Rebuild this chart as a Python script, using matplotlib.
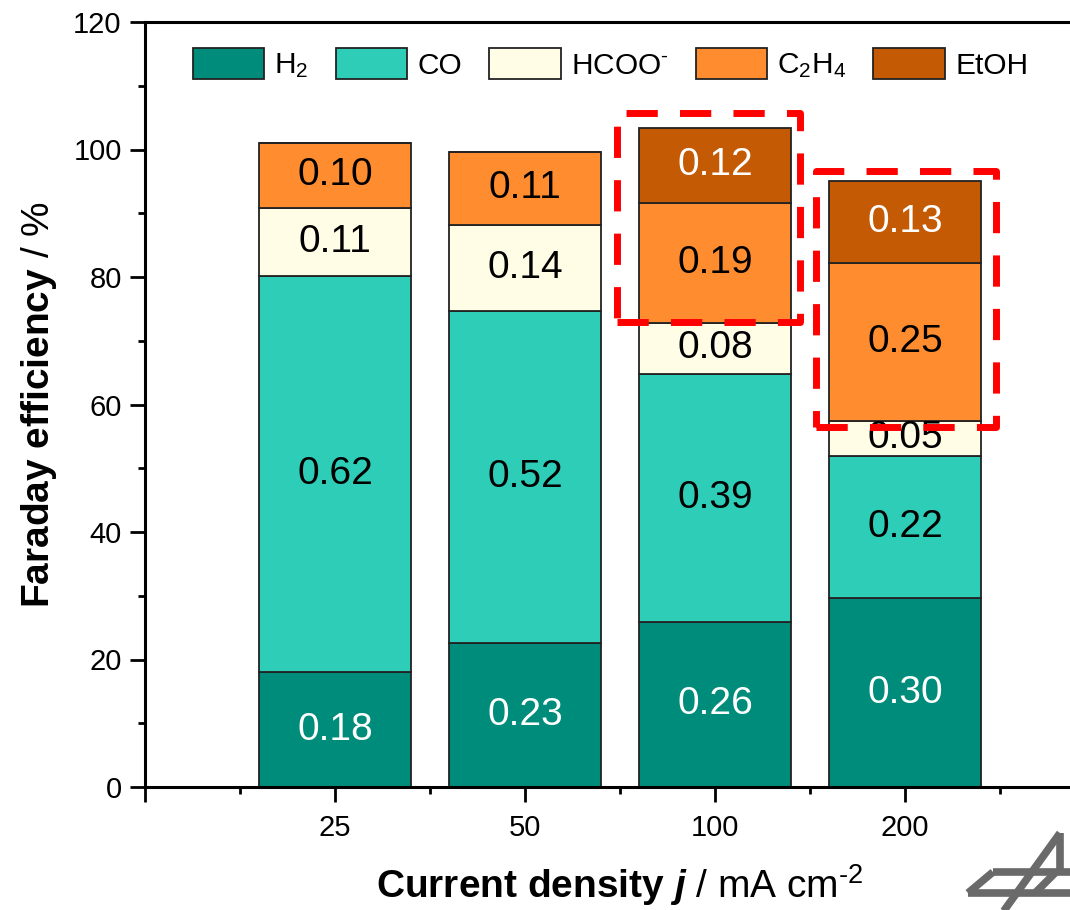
import matplotlib
matplotlib.use("Agg")
import matplotlib.pyplot as plt
from matplotlib.patches import Rectangle, Patch
from matplotlib.lines import Line2D
import numpy as np

plt.rcParams['font.family'] = ['Liberation Sans', 'DejaVu Sans']
plt.rcParams['mathtext.fontset'] = 'custom'
plt.rcParams['mathtext.rm'] = 'Liberation Sans'
plt.rcParams['mathtext.it'] = 'Liberation Sans:italic'
plt.rcParams['mathtext.bf'] = 'Liberation Sans:bold'
plt.rcParams['mathtext.bfit'] = 'Liberation Sans:italic:bold'

# ---- data ----
categories = ['25', '50', '100', '200']
species = ['H$_2$', 'CO', r'HCOO$^{\text{-}}$', 'C$_2$H$_4$', 'EtOH']
h2 = [18.0, 22.6, 25.9, 29.6]
co = [62.2, 52.0, 38.9, 22.4]
hcoo = [10.7, 13.6, 8.0, 5.4]
c2h4 = [10.1, 11.4, 18.8, 24.8]
etoh = [0.0, 0.0, 11.8, 12.8]

colors = ['#008C7A', '#2ECDB8', '#FFFDE6', '#FF8C2E', '#C55A05']
text_colors = ['white', 'black', 'black', 'black', 'white']

series = [h2, co, hcoo, c2h4, etoh]

fig = plt.figure(figsize=(10.7, 9.1), dpi=100)
W, H = 1070, 910
ax = fig.add_axes([145 / W, (H - 787) / H, 950 / W, 765 / H])

x = np.arange(1, len(categories) + 1)
bottom = np.zeros(len(categories))
for vals, col, tcol in zip(series, colors, text_colors):
    vals = np.array(vals)
    ax.bar(x, vals, width=0.8, bottom=bottom, color=col,
           edgecolor='#222222', linewidth=1.3, zorder=2)
    for xi, b, v in zip(x, bottom, vals):
        if v > 0:
            ax.text(xi, b + v / 2, f"{v / 100:.2f}", ha='center', va='center',
                    fontsize=28, color=tcol, zorder=3)
    bottom = bottom + vals

ax.set_xlim(0, 5)
ax.set_ylim(0, 120)

ax.set_yticks(np.arange(0, 121, 20))
ax.set_yticks(np.arange(10, 121, 20), minor=True)
ax.set_xticks([0, 1, 2, 3, 4, 5])
ax.set_xticklabels([''] + categories + [''])
ax.set_xticks(np.arange(0.5, 5, 1), minor=True)

ax.tick_params(axis='both', which='major', direction='out', length=10.8,
               width=2, labelsize=21)
ax.tick_params(axis='both', which='minor', direction='out', length=5, width=2)
ax.tick_params(axis='x', which='major', pad=9)
ax.tick_params(axis='y', which='major', pad=6)
ax.tick_params(top=False, right=False, which='both')

for s in ['left', 'bottom', 'top']:
    ax.spines[s].set_linewidth(2.2)
ax.spines['right'].set_visible(False)

ax.set_ylabel(r'$\mathbf{Faraday\ efficiency}$ / %', fontsize=28, labelpad=10)
ax.set_xlabel(r'$\mathbf{Current\ density}\ \mathbfit{j}$ / mA cm$^{\text{-}2}$',
              fontsize=28)
ax.xaxis.set_label_coords((620 - 145) / 950, -0.098)

handles = [Patch(facecolor=c, edgecolor='#222222', linewidth=1.3) for c in colors]
ax.legend(handles, species, ncol=5, loc='center',
          bbox_to_anchor=(0.49, 0.945), frameon=False, fontsize=21.5,
          handlelength=2.4, handleheight=1.23, handletextpad=0.34,
          columnspacing=0.9)

# red dashed highlight boxes
for (x0, x1, y0, y1) in [(2.484, 3.447, 72.9, 105.7), (3.53, 4.48, 56.5, 96.6)]:
    r = Rectangle((x0, y0), x1 - x0, y1 - y0, fill=False, edgecolor='#FF0000',
                  linewidth=5, linestyle=(0, (4.5, 3.2)), joinstyle='round',
                  zorder=5, clip_on=False)
    ax.add_patch(r)

# logo (decorative)
def fl(p):
    return [(px / W, 1 - py / H) for px, py in p]

logo_lines = [
    [(1060, 833), (1003, 912)],
    [(1060, 833), (1060, 872)],
    [(993, 872), (1072, 872)],
    [(968, 893), (1072, 893)],
    [(968, 893), (993, 872)],
    [(1035, 893), (1056, 872)],
]
for seg in logo_lines:
    pts = fl(seg)
    fig.add_artist(Line2D([p[0] for p in pts], [p[1] for p in pts],
                          transform=fig.transFigure, color='#6A6A6A',
                          linewidth=5.5, solid_capstyle='butt'))

fig.savefig('out.png', dpi=100, facecolor='white')
